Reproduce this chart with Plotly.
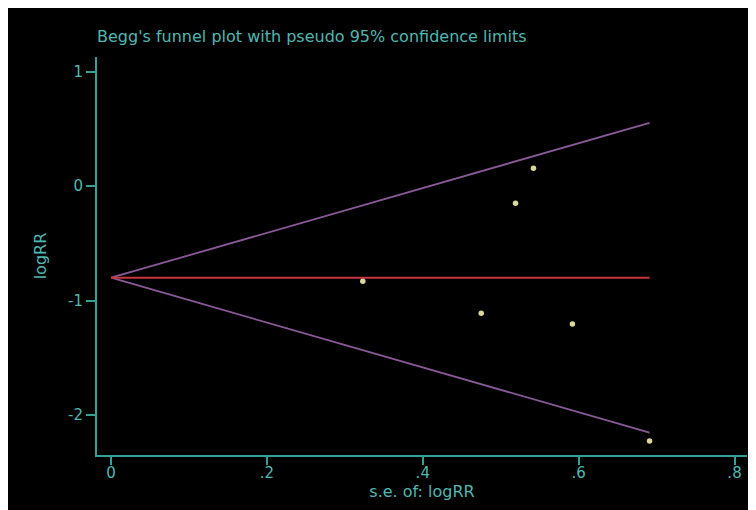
import plotly.graph_objects as go

# Data
se_logrr = [0.323, 0.475, 0.519, 0.542, 0.592, 0.691]
logrr = [-0.83, -1.11, -0.148, 0.157, -1.205, -2.227]
pooled = -0.80
z = 1.96

x_ticks = [0, 0.2, 0.4, 0.6, 0.8]
x_ticktext = ["0", ".2", ".4", ".6", ".8"]
y_ticks = [-2, -1, 0, 1]
y_ticktext = ["-2", "-1", "0", "1"]

se_max = max(se_logrr)
funnel_x = [0, se_max]
upper = [pooled + z * s for s in funnel_x]
lower = [pooled - z * s for s in funnel_x]

axis_col = "#34a196"
text_col = "#4fb8b2"
purple = "#8a5a98"
red = "#c8343c"
pt_col = "#dcd89c"
FONT = "DejaVu Sans, Verdana, sans-serif"

fig = go.Figure()
fig.add_trace(go.Scatter(x=funnel_x, y=upper, mode="lines",
                         line=dict(color=purple, width=1.8), hoverinfo="skip"))
fig.add_trace(go.Scatter(x=funnel_x, y=lower, mode="lines",
                         line=dict(color=purple, width=1.8), hoverinfo="skip"))
fig.add_trace(go.Scatter(x=funnel_x, y=[pooled, pooled], mode="lines",
                         line=dict(color=red, width=1.8), hoverinfo="skip"))
fig.add_trace(go.Scatter(x=se_logrr, y=logrr, mode="markers",
                         marker=dict(color=pt_col, size=5.5)))

W, H = 748, 502
ml, mr, mt, mb = 89, 9, 49, 55

fig.update_layout(
    width=W, height=H,
    margin=dict(l=ml, r=mr, t=mt, b=mb, pad=0),
    paper_bgcolor="black",
    plot_bgcolor="black",
    showlegend=False,
    font=dict(family=FONT, size=16, color=text_col),
    title=dict(text="Begg's funnel plot with pseudo 95% confidence limits",
               x=0, xref="paper", xanchor="left",
               y=1 - 28.5 / H, yref="container", yanchor="middle",
               font=dict(family=FONT, size=16, color=text_col)),
    xaxis=dict(range=[-0.018, 0.816], tickvals=x_ticks, ticktext=x_ticktext,
               showgrid=False, zeroline=False, showline=True,
               linecolor=axis_col, linewidth=2, ticks="outside",
               tickcolor=axis_col, ticklen=8, tickwidth=2,
               ticklabelstandoff=-5,
               tickfont=dict(family=FONT, color=text_col, size=15),
               title=dict(text="s.e. of: logRR", standoff=0,
                          font=dict(family=FONT, color=text_col, size=16))),
    yaxis=dict(range=[-2.35, 1.13], tickvals=y_ticks, ticktext=y_ticktext,
               showgrid=False, zeroline=False, showline=True,
               linecolor=axis_col, linewidth=2, ticks="outside",
               tickcolor=axis_col, ticklen=9, tickwidth=2,
               tickfont=dict(family=FONT, color=text_col, size=15),
               title=dict(text="logRR", standoff=17,
                          font=dict(family=FONT, color=text_col, size=16))),
)

fig.write_html("out.html")
